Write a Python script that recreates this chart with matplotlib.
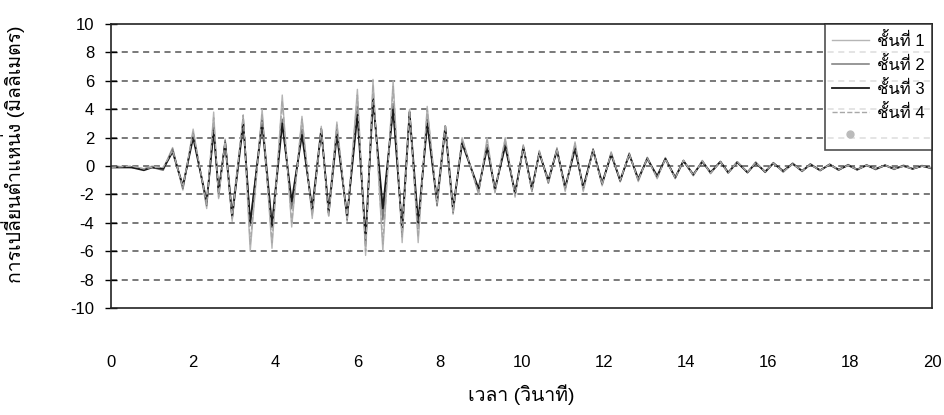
import numpy as np
import matplotlib.pyplot as plt
from matplotlib import font_manager, ft2font
from matplotlib.lines import Line2D

# find an installed font that has Thai glyphs
thai_font = None
for f in font_manager.fontManager.ttflist:
    try:
        if 0x0E0A in ft2font.FT2Font(f.fname).get_charmap():
            thai_font = f.name
            break
    except Exception:
        pass
fam = ['Liberation Sans', 'DejaVu Sans'] + ([thai_font] if thai_font else [])
plt.rcParams['font.family'] = fam
plt.rcParams['axes.unicode_minus'] = False

# time of each peak / trough (s)
t_ext = [0.0, 0.5, 0.8, 1.0, 1.27, 1.5, 1.75, 2.0, 2.33, 2.5,
         2.62, 2.78, 2.95, 3.22, 3.39, 3.68, 3.92, 4.17, 4.4, 4.65,
         4.9, 5.12, 5.3, 5.5, 5.75, 6.0, 6.2, 6.38, 6.62, 6.87,
         7.09, 7.27, 7.48, 7.7, 7.94, 8.14, 8.33, 8.55, 8.95, 9.16,
         9.35, 9.6, 9.84, 10.04, 10.25, 10.43, 10.65, 10.86, 11.06, 11.3,
         11.5, 11.74, 11.96, 12.18, 12.4, 12.62, 12.84, 13.06, 13.3, 13.5,
         13.74, 13.94, 14.18, 14.4, 14.6, 14.84, 15.03, 15.25, 15.5, 15.7,
         15.93, 16.13, 16.37, 16.6, 16.83, 17.03, 17.27, 17.5, 17.72, 17.95,
         18.17, 18.4, 18.62, 18.85, 19.07, 19.3, 19.52, 19.75, 20.0]

# displacement (mm) per floor
floor1 = [-0.1, -0.1, -0.2, 0.0, -0.2, 1.3, -1.7, 2.6, -3.0, 3.8,
          -2.3, 1.9, -3.9, 3.5, -6.0, 4.0, -5.8, 5.0, -4.3, 3.5,
          -3.7, 2.8, -3.5, 3.1, -3.9, 5.4, -6.3, 6.1, -6.0, 6.0,
          -5.4, 4.0, -5.4, 4.2, -2.8, 2.6, -3.4, 2.0, -2.0, 2.0,
          -1.9, 2.0, -2.2, 1.5, -1.8, 1.1, -1.2, 1.3, -1.8, 1.7,
          -1.8, 1.2, -1.4, 1.0, -1.1, 0.9, -1.1, 0.6, -0.9, 0.6,
          -0.9, 0.4, -0.7, 0.4, -0.55, 0.35, -0.5, 0.3, -0.5, 0.3,
          -0.45, 0.25, -0.45, 0.2, -0.4, 0.15, -0.35, 0.15, -0.3, 0.1,
          -0.3, 0.1, -0.25, 0.05, -0.25, 0.05, -0.2, 0.05, -0.2]
floor2 = [0.0, -0.1, -0.2, -0.1, -0.3, 1.2, -1.6, 2.3, -2.8, 2.8,
          -2.0, 1.8, -3.3, 3.3, -4.2, 3.4, -4.0, 3.3, -3.0, 2.6,
          -3.3, 2.4, -3.0, 2.6, -3.8, 4.2, -5.5, 5.0, -3.8, 4.4,
          -4.8, 3.5, -4.4, 3.3, -2.8, 2.6, -3.3, 1.8, -1.8, 1.5,
          -1.8, 1.6, -2.0, 1.4, -1.7, 1.0, -1.2, 1.2, -1.6, 1.4,
          -1.6, 1.2, -1.3, 0.9, -1.1, 0.9, -1.0, 0.6, -0.8, 0.55,
          -0.85, 0.4, -0.65, 0.35, -0.5, 0.3, -0.5, 0.3, -0.45, 0.25,
          -0.45, 0.2, -0.4, 0.2, -0.35, 0.15, -0.3, 0.1, -0.3, 0.1,
          -0.25, 0.05, -0.25, 0.05, -0.2, 0.05, -0.2, 0.0, -0.2]
floor3 = [-0.1, -0.1, -0.3, -0.1, -0.2, 1.0, -1.4, 2.0, -2.5, 2.5,
          -1.8, 1.6, -3.6, 3.0, -4.0, 3.0, -4.3, 3.0, -2.5, 2.2,
          -3.0, 2.6, -3.3, 2.2, -3.5, 3.6, -5.1, 4.7, -3.0, 4.0,
          -4.4, 3.8, -4.0, 3.0, -2.4, 2.8, -3.0, 1.6, -1.6, 1.3,
          -1.6, 1.4, -1.9, 1.3, -1.6, 0.9, -1.0, 1.1, -1.5, 1.2,
          -1.5, 1.1, -1.2, 0.8, -1.0, 0.8, -0.9, 0.5, -0.7, 0.5,
          -0.8, 0.35, -0.6, 0.3, -0.45, 0.3, -0.45, 0.25, -0.45, 0.2,
          -0.4, 0.2, -0.35, 0.15, -0.35, 0.1, -0.3, 0.1, -0.25, 0.05,
          -0.25, 0.05, -0.2, 0.05, -0.2, 0.0, -0.2, 0.0, -0.15]
floor4 = [-0.1, 0.0, -0.2, -0.1, -0.1, 1.1, -1.5, 2.4, -2.7, 3.4,
          -2.2, 1.7, -3.7, 3.6, -5.5, 3.7, -5.4, 4.6, -4.0, 3.3,
          -3.5, 2.7, -3.6, 2.9, -3.7, 5.0, -6.0, 5.7, -5.5, 5.6,
          -5.0, 3.9, -5.0, 4.0, -2.6, 2.9, -3.2, 1.9, -1.9, 1.8,
          -1.8, 1.9, -2.1, 1.4, -1.8, 1.0, -1.1, 1.2, -1.7, 1.6,
          -1.7, 1.1, -1.3, 0.9, -1.0, 0.85, -1.0, 0.55, -0.85, 0.5,
          -0.85, 0.4, -0.65, 0.35, -0.5, 0.3, -0.5, 0.3, -0.45, 0.25,
          -0.4, 0.2, -0.4, 0.15, -0.35, 0.1, -0.3, 0.1, -0.25, 0.05,
          -0.25, 0.05, -0.2, 0.05, -0.2, 0.0, -0.2, 0.0, -0.15]

labels = ['ชั้นที่ 1', 'ชั้นที่ 2', 'ชั้นที่ 3', 'ชั้นที่ 4']
colors = ['#b5b5b5', '#7a7a7a', '#1a1a1a', '#a8a8a8']
styles = ['-', '-', '-', '--']
widths = [1.0, 1.1, 1.3, 1.0]

fig = plt.figure(figsize=(9.44, 4.15), dpi=100)
ax = fig.add_axes([0.1176, 0.258, 0.870, 0.684])

for y in range(-8, 10, 2):
    ax.axhline(y, color='#555555', lw=1.1, ls=(0, (4, 3)), zorder=1)

handles = []
for vals, lab, c, s, w in zip([floor1, floor2, floor3, floor4], labels, colors, styles, widths):
    h, = ax.plot(t_ext, vals, color=c, ls=s, lw=w, zorder=2, label=lab)
    handles.append(h)

ax.set_xlim(0, 20)
ax.set_ylim(-10, 10)
ax.set_xticks(np.arange(0, 21, 2))
ax.set_yticks(np.arange(-10, 11, 2))
ax.tick_params(axis='y', direction='inout', length=8, width=1, labelsize=12, pad=8)
ax.tick_params(axis='x', length=0, labelsize=12, pad=34)
for sp in ax.spines.values():
    sp.set_linewidth(1.2)
    sp.set_color('#222222')

ax.set_ylabel('การเปลี่ยนตำแหน่ง (มิลลิเมตร)', fontsize=14, labelpad=4)
ax.yaxis.set_label_coords(-0.105, 0.54)
ax.set_xlabel('เวลา (วินาที)', fontsize=14, labelpad=10)

dot = Line2D([], [], marker='o', color='#bbbbbb', ls='none', markersize=5)
leg = ax.legend(handles + [dot], labels + [''], loc='upper right',
                bbox_to_anchor=(1.0, 1.0), fontsize=12, frameon=True,
                fancybox=False, handlelength=2.2, borderaxespad=0,
                borderpad=0.45, labelspacing=0.42, handletextpad=0.5)
leg.get_frame().set_edgecolor('#222222')
leg.get_frame().set_linewidth(1.2)

plt.savefig('out.png', dpi=100)
